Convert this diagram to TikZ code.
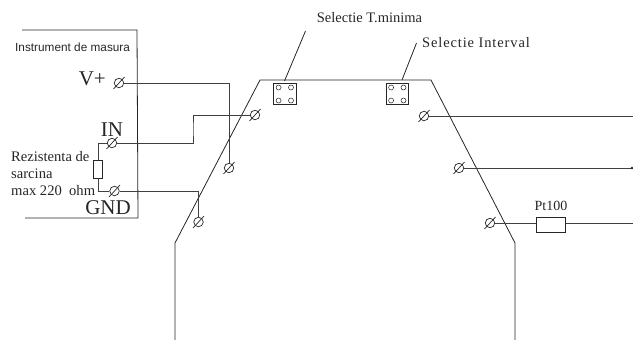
\documentclass[tikz,border=0pt]{standalone}
\usepackage{fontspec}
\setmainfont{Liberation Serif}
\newfontfamily\labsans{Liberation Sans}
\newfontfamily\spaced[LetterSpace=6]{Liberation Serif}
\tikzset{
  x=1pt,y=-1pt,
  wire/.style={draw=black!75,line width=0.8pt},
  frameline/.style={draw=black!85,line width=0.8pt},
  termnode/.style={circle,draw=black!85,line width=0.7pt,minimum size=9.5pt,inner sep=0pt},
  selbox/.style={rectangle,draw=black!85,line width=0.8pt,minimum width=22.5pt,minimum height=21.5pt,inner sep=0pt},
  hole/.style={draw=black!85,line width=0.5pt},
  resbox/.style={rectangle,draw=black!85,line width=0.7pt,inner sep=0pt},
  txt/.style={inner sep=0pt,text=black!85},
}
\newcommand{\termat}[3]{%
  \node[termnode] (#1) at (#2,#3) {};
  \draw[black!85,line width=0.7pt] (#2-5.5,#3+6) -- (#2+5.5,#3-6);
}
\newcommand{\holes}[1]{%
  \foreach \dx/\dy in {-6.2/-6.5,6.2/-6.5,-6.2/6.5,6.2/6.5}
    \draw[hole] ($(#1)+(\dx,\dy)$) circle (2.5);
}
\usetikzlibrary{calc}
\begin{document}
\begin{tikzpicture}
\useasboundingbox (0,0) rectangle (633,340);
% instrument frame
\coordinate (ftl) at (22,30);
\coordinate (ftr) at (137,30);
\coordinate (fbr) at (138,218);
\coordinate (fbl) at (25,218);
\draw[frameline] (ftl) -- (ftr) -- (fbr) -- (fbl);
% housing
\coordinate (h1) at (175,340);
\coordinate (h2) at (175,243);
\coordinate (h3) at (260,80);
\coordinate (h4) at (431,80);
\coordinate (h5) at (515,243);
\coordinate (h6) at (515,340);
\draw[frameline] (h1) -- (h2) -- (h3) -- (h4) -- (h5) -- (h6);
% terminals
\termat{vp}{119}{83}
\termat{inn}{112}{143}
\termat{gnd}{114.5}{191}
\termat{ta}{255}{115}
\termat{tb}{229}{168}
\termat{tc}{198.5}{222}
\termat{td}{424}{116}
\termat{te}{459}{168}
\termat{tf}{490}{223}
% wires
\coordinate (inb) at (193,129);
\draw[wire] (vp.east) -| (tb.north);
\draw[wire] (inn.east) -| (inb) |- (ta.west);
\draw[wire] (gnd.east) -| (tc.north);
\coordinate (rd) at (633,116);
\coordinate (re) at (633,168);
\coordinate (rf) at (633,223);
\draw[wire] (td.east) -- (rd);
\draw[wire] (te.east) -- (re);
\fill[black!85] (632,168) circle (1.3);
% Pt100
\node[resbox,minimum width=29.5pt,minimum height=15pt] (pt) at (551,224.5) {};
\draw[wire] (tf.east) -- (tf.east -| pt.west);
\draw[wire] (tf.east -| pt.east) -- (rf);
\node[txt,font=\fontsize{14}{15}\selectfont] (ptl) at (551,206) {Pt100};
% load resistor
\node[resbox,minimum width=8.5pt,minimum height=18pt] (rl) at (98,169) {};
\draw[wire] (inn.west) -| (rl.north);
\draw[wire] (gnd.west) -| (rl.south);
% selector blocks
\node[selbox] (s1) at (284.8,94) {};
\node[selbox] (s2) at (397.3,94) {};
\holes{s1}
\holes{s2}
\coordinate (l1) at (305.5,31);
\coordinate (l2) at (416.5,43);
\coordinate (l1b) at (284.5,81);
\coordinate (l2b) at (402,80);
\draw[frameline] (l1b) -- (l1);
\draw[frameline] (l2b) -- (l2);
% labels
\node[txt,font=\fontsize{14.5}{15}\selectfont] (sa) at (369.5,18) {Selectie T.minima};
\node[txt,anchor=west,font=\spaced\fontsize{14.5}{15}\selectfont] (sb) at (422,43) {Selectie Interval};
\node[txt,anchor=west,font=\labsans\fontsize{11.8}{12}\selectfont] (im) at (15,47.5) {Instrument de masura};
\node[txt,anchor=east,font=\fontsize{21}{22}\selectfont] (lv) at (106,79) {V+};
\node[txt,font=\fontsize{21}{22}\selectfont] (li) at (112,130) {IN};
\node[txt,font=\fontsize{21}{22}\selectfont] (lg) at (108,208) {GND};
\node[txt,anchor=west,align=left,font=\fontsize{14.6}{17}\selectfont] (lr) at (11,174) {Rezistenta de\\sarcina\\max 220\ \ ohm};
\end{tikzpicture}
\end{document}
